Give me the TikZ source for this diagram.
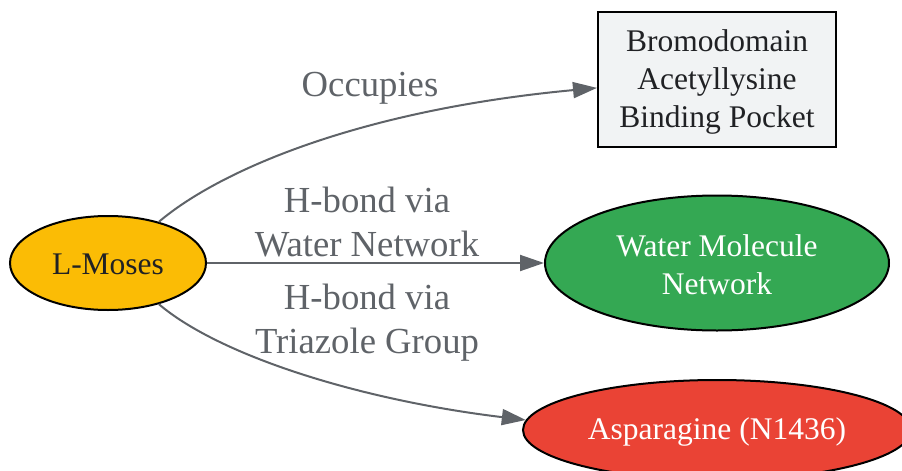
\documentclass[tikz,border=0pt]{standalone}
\usepackage{fontspec}
\setmainfont{Liberation Serif}
\usetikzlibrary{shapes.geometric,arrows.meta}
\definecolor{edgegray}{HTML}{5F6368}
\definecolor{txtdark}{HTML}{202124}
\definecolor{lmfill}{HTML}{FBBC05}
\definecolor{boxfill}{HTML}{F1F3F4}
\definecolor{wfill}{HTML}{34A853}
\definecolor{afill}{HTML}{EA4335}
\tikzset{
  nodefont/.style={font=\fontsize{31.5}{38}\selectfont},
  ell/.style={ellipse, draw=black, line width=2, inner sep=0},
  boxnode/.style={rectangle, draw=black, line width=2, fill=boxfill, inner sep=0},
  ntext/.style={inner sep=0, align=center, nodefont},
  conn/.style={draw=edgegray, line width=2, -{Triangle[length=24,width=16]}},
  elabel/.style={text=edgegray, align=center, font=\fontsize{36.7}{44}\selectfont, inner sep=0}
}
\begin{document}
\begin{tikzpicture}[x=1pt,y=-1pt]
\useasboundingbox (0,0) rectangle (902,471);
\begin{scope}
\clip (0,0) rectangle (902,471);
\node[ell, fill=lmfill, minimum width=196, minimum height=94] (lm) at (108,263) {};
\node[boxnode, minimum width=238, minimum height=135] (box) at (717,79.5) {};
\node[ell, fill=wfill, minimum width=344, minimum height=135] (water) at (717,263) {};
\node[ell, fill=afill, minimum width=388, minimum height=100] (asp) at (717,430) {};
\end{scope}
\node[ntext, text=txtdark] (lmt) at (108,264) {L-Moses};
\node[ntext, text=txtdark] (boxt) at (717,82) {Bromodomain\\Acetyllysine\\Binding Pocket};
\node[ntext, text=white] (watert) at (717,265) {Water Molecule\\Network};
\node[ntext, text=white] (aspt) at (717,432) {Asparagine (N1436)};
\draw[conn] (lm.39) .. controls (220,170) and (360,110) .. (box.184);
\draw[conn] (lm.east) -- (water.west);
\draw[conn] (lm.-39) .. controls (220,356) and (360,400) .. (asp.177);
\node[elabel] (l1) at (370,88) {Occupies};
\node[elabel] (l2) at (367,222) {H-bond via\\Water Network};
\node[elabel] (l3) at (367,323) {H-bond via\\Triazole Group};
\end{tikzpicture}
\end{document}
